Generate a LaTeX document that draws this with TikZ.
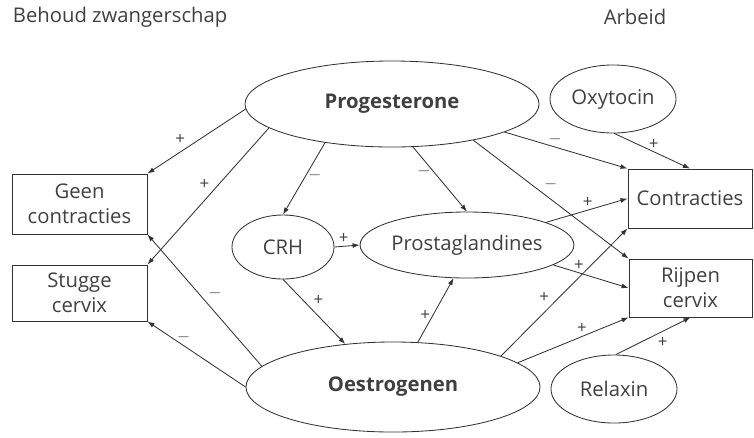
\documentclass[tikz,border=0pt]{standalone}
\usepackage{fontspec}
\setmainfont{Open Sans}
\usetikzlibrary{arrows.meta,positioning,shapes.geometric}

\begin{document}
\begin{tikzpicture}[
    x=0.025cm, y=-0.025cm,
    font=\Large, text=black!75,
    hormone/.style={ellipse, draw=black!80, line width=0.6pt, inner sep=0pt, font=\Large},
    effect/.style={rectangle, draw=black!80, line width=0.6pt, align=center, inner sep=0pt, font=\Large},
    arrow/.style={-{Latex[length=5pt,width=3.5pt]}, line width=0.6pt, draw=black!80},
    lbl/.style={font=\large, inner sep=1.5pt}
]
\useasboundingbox (0,0) rectangle (754,437);

% Headings
\node[anchor=west] (keep) at (8,17) {Behoud zwangerschap};
\node (labour) at (635,17) {Arbeid};

% Hormones
\node[hormone, minimum width=7.35cm, minimum height=2.15cm, font=\Large\bfseries] (prog) at (392,104) {Progesterone};
\node[hormone, minimum width=3.15cm, minimum height=1.7cm] (oxy) at (613,99) {Oxytocin};
\node[hormone, minimum width=2.55cm, minimum height=1.6cm] (crh) at (283,247) {CRH};
\node[hormone, minimum width=4.75cm, minimum height=1.65cm] (prosta) at (467,245) {Prostaglandines};
\node[hormone, minimum width=7.35cm, minimum height=2.25cm, font=\Large\bfseries] (oestr) at (393,387) {Oestrogenen};
\node[hormone, minimum width=3.15cm, minimum height=1.7cm] (relax) at (614,389) {Relaxin};

% Effects
\node[effect, minimum width=3.375cm, minimum height=1.5cm] (geen) at (79.5,204) {Geen\\contracties};
\node[effect, minimum width=3.375cm, minimum height=1.4cm] (stugge) at (79.5,293) {Stugge\\cervix};
\node[effect, minimum width=3.1cm, minimum height=1.475cm] (contr) at (690,198.5) {Contracties};
\node[effect, minimum width=3.075cm, minimum height=1.45cm] (rijpen) at (690.5,288) {Rijpen\\cervix};

% Progesterone arrows
\draw[arrow] (prog.182) -- (geen.north east) node[lbl, pos=0.59, above left] {+};
\draw[arrow] (prog.191) -- (stugge.north east) node[lbl, pos=0.47, above left] {+};
\draw[arrow] (prog.210) -- (crh.north) node[lbl, pos=0.46, right] {$-$};
\draw[arrow] (prog.296) -- (prosta.north) node[lbl, pos=0.37, left] {$-$};
\draw[arrow] (prog.346) -- (contr.north west) node[lbl, pos=0.41, above] {$-$};
\draw[arrow] (prog.336) -- (rijpen.north west) node[lbl, pos=0.44, above right] {$-$};

% Oxytocin and relaxin
\draw[arrow] (oxy.272) -- (contr.north) node[lbl, pos=0.52, above] {+};
\draw[arrow] (relax.87) -- (rijpen.south) node[lbl, pos=0.53, below right] {+};

% CRH and prostaglandines
\draw[arrow] (crh.east) -- (prosta.west) node[lbl, pos=0.37, above] {+};
\draw[arrow] (crh.south) -- (oestr.138) node[lbl, pos=0.45, above right] {+};
\draw[arrow] (prosta.16) -- (contr.west) node[lbl, pos=0.51, above] {+};
\draw[arrow] (prosta.347) -- (rijpen.west) node[lbl, pos=0.34, above] {+};

% Oestrogen arrows
\draw[arrow] (oestr.61) -- (prosta.248) node[lbl, pos=0.41, left] {+};
\draw[arrow] (oestr.16) -- (contr.south west) node[lbl, pos=0.4, above left] {+};
\draw[arrow] (oestr.11) -- (rijpen.south west) node[lbl, pos=0.58, above] {+};
\draw[arrow] (oestr.171) -- (geen.south east) node[lbl, pos=0.49, above right] {$-$};
\draw[arrow] (oestr.west) -- (stugge.south east) node[lbl, pos=0.63, above] {$-$};
\end{tikzpicture}
\end{document}
